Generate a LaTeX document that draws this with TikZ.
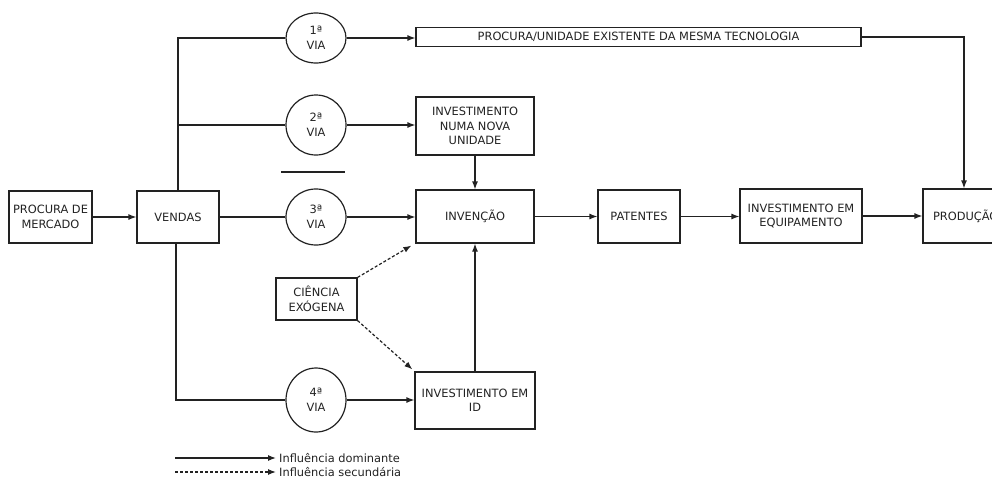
\documentclass[tikz,border=0pt]{standalone}
\usepackage{fontspec}
\setmainfont{DejaVu Sans}
\usetikzlibrary{arrows.meta,shapes.geometric}
\definecolor{ink}{HTML}{222222}
\tikzset{
  x=1pt, y=-1pt,
  every node/.style={font=\fontsize{11.4}{14.5}\selectfont, text=ink},
  box/.style={draw=ink, line width=1.2pt, rectangle, align=center, inner sep=0pt},
  via/.style={draw=ink, line width=1.2pt, ellipse, inner sep=0pt, align=center},
  conn/.style={draw=ink, line width=1.2pt},
  arr/.style={conn, -{Latex[length=8pt,width=6pt]}},
  darr/.style={arr, dash pattern=on 3pt off 2pt},
}
\begin{document}
\begin{tikzpicture}
\useasboundingbox (0,0) rectangle (992,482);
\clip (0,0) rectangle (992,482);
% boxes
\node[box, minimum width=83pt, minimum height=52pt] (proc) at (50.5,217) {PROCURA DE\\MERCADO};
\node[box, minimum width=82pt, minimum height=52pt] (vendas) at (178,217) {VENDAS};
\node[box, minimum width=445pt, minimum height=19pt] (unid) at (638.5,37) {PROCURA/UNIDADE EXISTENTE DA MESMA TECNOLOGIA};
\node[box, minimum width=118pt, minimum height=58pt] (nova) at (475,126) {INVESTIMENTO\\NUMA NOVA\\UNIDADE};
\node[box, minimum width=118pt, minimum height=53pt] (inv) at (475,216.5) {INVENÇÃO};
\node[box, minimum width=81pt, minimum height=42pt] (cien) at (316.5,299) {CIÊNCIA\\EXÓGENA};
\node[box, minimum width=120pt, minimum height=57pt] (id) at (475,400.5) {INVESTIMENTO EM\\ID};
\node[box, minimum width=82pt, minimum height=53pt] (pat) at (639,216.5) {PATENTES};
\node[box, minimum width=122pt, minimum height=54pt] (equip) at (801,216) {INVESTIMENTO EM\\EQUIPAMENTO};
\node[box, minimum width=84pt, minimum height=54pt, text width=80pt, align=left] (prod) at (965,216) {\hspace*{8pt}PRODUÇÃO};
% vias
\node[via, minimum width=60pt, minimum height=50pt] (c1) at (316,38) {1ª\\VIA};
\node[via, minimum width=60pt, minimum height=60pt] (c2) at (316,125) {2ª\\VIA};
\node[via, minimum width=60pt, minimum height=56pt] (c3) at (316,217) {3ª\\VIA};
\node[via, minimum width=60pt, minimum height=64pt] (c4) at (316,400) {4ª\\VIA};
% connectors
\draw[arr] (proc.east) -- (vendas.west);
\draw[conn] (vendas.north) |- (c1.west);
\draw[conn] (vendas.north |- c2.west) -- (c2.west);
\draw[conn] (vendas.east) -- (c3.west);
\draw[conn] ([xshift=-2pt]vendas.south) |- (c4.west);
\draw[arr] (c1.east) -- (c1.east -| unid.west);
\draw[arr] (c2.east) -- (c2.east -| nova.west);
\draw[arr] (c3.east) -- (c3.east -| inv.west);
\draw[arr] (c4.east) -- (c4.east -| id.west);
\draw[arr] (nova.south) -- (inv.north);
\draw[arr] (id.north) -- (inv.south);
\draw[darr] (cien.north east) -- ([xshift=-4pt,yshift=-2pt]inv.south west);
\draw[darr] (cien.south east) -- ([xshift=-2pt,yshift=2pt]id.north west);
\draw[arr] (inv.east) -- (inv.east -| pat.west);
\draw[arr] (pat.east) -- (pat.east -| equip.west);
\draw[arr] (equip.east) -- (equip.east -| prod.west);
\draw[arr] (unid.east) -| ([xshift=-1pt]prod.north);
% underline below 2a via
\draw[conn] (281,172) -- (345,172);
% legend
\coordinate (l1a) at (175,458);
\coordinate (l1b) at (276,458);
\coordinate (l2a) at (175,472);
\coordinate (l2b) at (276,472);
\draw[arr] (l1a) -- (l1b);
\draw[darr] (l2a) -- (l2b);
\node[anchor=west, inner sep=0pt] (t1) at ([xshift=3pt]l1b) {Influência dominante};
\node[anchor=west, inner sep=0pt] (t2) at ([xshift=3pt]l2b) {Influência secundária};
\end{tikzpicture}
\end{document}
